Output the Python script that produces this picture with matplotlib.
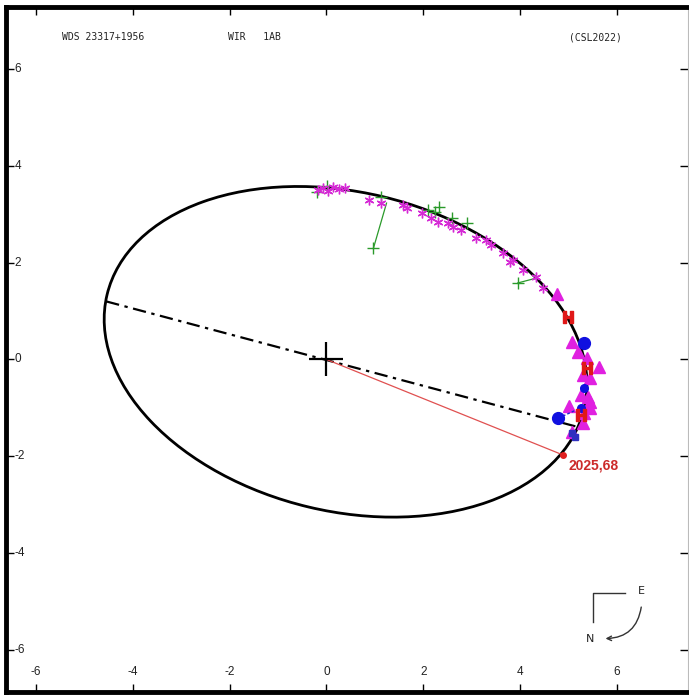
import numpy as np
import matplotlib
matplotlib.use("Agg")
import matplotlib.pyplot as plt
from matplotlib.patches import Ellipse, FancyArrowPatch

# apparent orbit (center, full width, full height, tilt in deg)
orb_center = (0.394, 0.159)
orb_w, orb_h, orb_ang = 10.13, 6.59, -13.45
# line of apsides end points
aps_x = [-4.55, 5.14]
aps_y = [1.20, -1.38]

# measurements
ast_x = [-0.18, -0.08, 0.03, 0.14, 0.25, 0.39, 0.87, 1.12, 1.57, 1.67, 1.98, 2.15, 2.31,
         2.50, 2.62, 2.77, 3.08, 3.29, 3.39, 3.64, 3.80, 3.86, 4.05, 4.32, 4.48]
ast_y = [3.50, 3.55, 3.48, 3.57, 3.52, 3.54, 3.29, 3.23, 3.19, 3.12, 3.02, 2.92, 2.84,
         2.81, 2.73, 2.67, 2.51, 2.46, 2.36, 2.20, 2.01, 2.05, 1.85, 1.70, 1.47]
grn_x = [-0.19, 0.02, 1.12, 0.97, 2.09, 2.25, 2.33, 2.60, 2.91, 3.95]
grn_y = [3.45, 3.58, 3.35, 2.30, 3.08, 3.04, 3.14, 2.92, 2.81, 1.58]
grn_oc_x = [[0.97, 1.24], [3.95, 4.29]]
grn_oc_y = [[2.30, 3.23], [1.58, 1.67]]
tri_x = [4.77, 5.08, 5.19, 5.37, 5.62, 5.29, 5.45, 5.25, 5.41, 5.45, 5.00, 5.31, 5.45, 5.29, 5.08]
tri_y = [1.35, 0.36, 0.15, 0.03, -0.15, -0.32, -0.38, -0.73, -0.77, -0.88, -0.96, -1.10, -1.00, -1.31, -1.49]
blue_big_x = [5.31, 4.79]
blue_big_y = [0.34, -1.21]
blue_med_x = [5.31, 5.25]
blue_med_y = [-0.59, -1.00]
blue_oc_x = [4.79, 5.25]
blue_oc_y = [-1.21, -1.00]
hip_x = [4.98, 5.37, 5.25]
hip_y = [0.88, -0.17, -1.14]
sq_x = [5.08, 5.14]
sq_y = [-1.52, -1.60]
ephem_x, ephem_y = 4.88, -1.97
ephem_label = "2025,68"

ticks = [-6, -4, -2, 0, 2, 4, 6]

fig = plt.figure(figsize=(6.89, 6.97), dpi=100)
ax = fig.add_axes([6/689, 5/697, 682/689, 685/697])
ax.set_xlim(-6.619, 7.466)
ax.set_ylim(-6.867, 7.280)

for s in ["left", "top", "bottom"]:
    ax.spines[s].set_linewidth(3.5)
    ax.spines[s].set_color("black")
ax.spines["right"].set_linewidth(0.8)
ax.spines["right"].set_color("#bbbbbb")

ax.set_xticks(ticks)
ax.set_yticks(ticks)
ax.set_xticklabels([])
ax.set_yticklabels([])
ax.tick_params(axis="both", direction="in", length=6, width=1, color="black",
               top=True, right=True)
for t in ax.yaxis.get_ticklines()[1::2]:
    t.set_color("#cccccc")

tf_x = ax.get_xaxis_transform()
tf_y = ax.get_yaxis_transform()
for t in ticks:
    ax.text(t, 0.029, str(t), transform=tf_x, ha="center", va="center",
            fontsize=8.5, family="Liberation Sans", color="#222222")
    ax.text(0.0125, t, str(t), transform=tf_y, ha="left", va="center",
            fontsize=8.5, family="Liberation Sans", color="#222222")

# header
hdr = dict(transform=ax.transAxes, fontsize=7, family="DejaVu Sans Mono", va="center",
           ha="center", color="#222222")
ax.text(0.142, 0.956, "WDS 23317+1956", **hdr)
ax.text(0.365, 0.956, "WIR   1AB", **hdr)
ax.text(0.864, 0.956, "(CSL2022)", **hdr)

# orbit
ax.add_patch(Ellipse(orb_center, orb_w, orb_h, angle=orb_ang, fill=False,
                     ec="black", lw=2, zorder=3))
ax.plot(aps_x, aps_y, color="black", lw=1.6, dashes=[6, 2.5, 1.5, 2.5], zorder=3)

# primary
ax.plot(0, 0, marker="+", ms=24, mew=1.6, color="black", zorder=5)

# ephemeris
ax.plot([0, ephem_x], [0, ephem_y], color="#e05050", lw=0.9, zorder=4)
ax.plot(ephem_x, ephem_y, "o", ms=4, color="#e02020", zorder=6)
ax.text(ephem_x + 0.12, ephem_y - 0.22, ephem_label, color="#cc2a2a", fontsize=10,
        fontweight="bold", family="Liberation Sans", ha="left", va="center")

# measurements
for xs, ys in zip(grn_oc_x, grn_oc_y):
    ax.plot(xs, ys, color="#2a9a2a", lw=0.9, zorder=4)
ax.plot(grn_x, grn_y, "+", ms=8, mew=1.0, color="#2a9a2a", ls="none", zorder=5)
ax.plot(ast_x, ast_y, marker=(6, 2, 0), ms=7, mew=1.0, color="#d52ad5", ls="none", zorder=5)
ax.plot(tri_x, tri_y, "^", ms=8, color="#e020e0", mec="#e020e0", ls="none", zorder=5)
ax.plot(blue_oc_x, blue_oc_y, color="#2020d0", lw=1, ls=(0, (2, 1.5)), zorder=5)
ax.plot(blue_big_x, blue_big_y, "o", ms=8.5, color="#1010e0", ls="none", zorder=6)
ax.plot(blue_med_x, blue_med_y, "o", ms=5.5, color="#1010e0", ls="none", zorder=6)
ax.plot(sq_x, sq_y, "s", ms=4, color="#3030c0", ls="none", zorder=6)
ax.plot(hip_x, hip_y, marker=r"$\mathbf{H}$", ms=8, color="#e01818", ls="none", zorder=7)

# orientation sign
ax.plot([0.861, 0.861, 0.908], [0.102, 0.1445, 0.1445], transform=ax.transAxes,
        color="#333333", lw=1)
ax.text(0.932, 0.147, "E", transform=ax.transAxes, fontsize=8, ha="center", va="center",
        family="DejaVu Sans", color="#222222")
ax.text(0.856, 0.078, "N", transform=ax.transAxes, fontsize=8, ha="center", va="center",
        family="DejaVu Sans", color="#222222")
ax.add_patch(FancyArrowPatch((0.932, 0.128), (0.875, 0.078), transform=ax.transAxes,
                             connectionstyle="arc3,rad=-0.45", arrowstyle="->",
                             mutation_scale=8, lw=1, color="#333333"))

fig.savefig("out.png", dpi=100)
